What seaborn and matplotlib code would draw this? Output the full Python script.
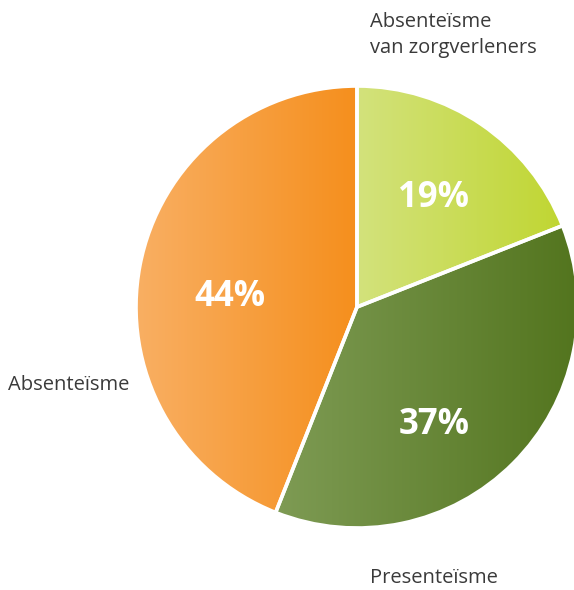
import numpy as np
import matplotlib
matplotlib.use("Agg")
import matplotlib.pyplot as plt
import seaborn as sns

# Share of lost productivity by cause
categories = ["Absenteïsme\nvan zorgverleners", "Presenteïsme", "Absenteïsme"]
shares = [19, 37, 44]
pct_labels = ["19%", "37%", "44%"]

# Horizontal gradient (left -> right) for each slice
gradients = [
    ("#d3e27c", "#c0d632"),
    ("#7e9b54", "#52741d"),
    ("#f9b065", "#f58f1d"),
]

sns.set_theme(style="white")
plt.rcParams["font.family"] = ["Open Sans", "DejaVu Sans"]

W, H, DPI = 574, 590, 100
R_PX = 221.0          # pie radius in pixels
CX, CY = 357.0, 307.0  # pie centre in pixels (from top-left)

fig = plt.figure(figsize=(W / DPI, H / DPI), dpi=DPI)
ax = fig.add_axes([0, 0, 1, 1])
ax.set_axis_off()

wedges, _ = ax.pie(
    shares,
    startangle=90,
    counterclock=False,
    radius=1.0,
    center=(0, 0),
    wedgeprops=dict(linewidth=2.6, edgecolor="white"),
)

ramp = np.linspace(0, 1, 256).reshape(1, -1)
for w, (c0, c1) in zip(wedges, gradients):
    pts = w.get_patch_transform().transform(w.get_path().vertices)
    x0, x1 = pts[:, 0].min(), pts[:, 0].max()
    y0, y1 = pts[:, 1].min(), pts[:, 1].max()
    cmap = sns.blend_palette([c0, c1], as_cmap=True)
    im = ax.imshow(ramp, cmap=cmap, extent=(x0, x1, y0, y1),
                   aspect="auto", interpolation="bilinear", zorder=1)
    im.set_clip_path(w)
    w.set_facecolor("none")
    w.set_zorder(3)

ax.set_xlim(-CX / R_PX, (W - CX) / R_PX)
ax.set_ylim(-(H - CY) / R_PX, CY / R_PX)
ax.set_aspect("equal", adjustable="box")


def px(x, y):
    return ((x - CX) / R_PX, (CY - y) / R_PX)


# Percentage labels inside the slices
pct_pos = [(434, 198), (434, 425), (230, 297)]
for lab, (x, y) in zip(pct_labels, pct_pos):
    ax.text(*px(x, y), lab, color="white", fontsize=25, fontweight="bold",
            ha="center", va="center", zorder=5)

# Category labels around the pie
text_color = "#3a3a3a"
cat_pos = [(370, 35), (370, 578), (8, 385)]
for lab, (x, y) in zip(categories, cat_pos):
    ax.text(*px(x, y), lab, color=text_color, fontsize=14.5,
            ha="left", va="center", linespacing=1.35, zorder=5)

fig.savefig("out.png", dpi=DPI, facecolor="white")
